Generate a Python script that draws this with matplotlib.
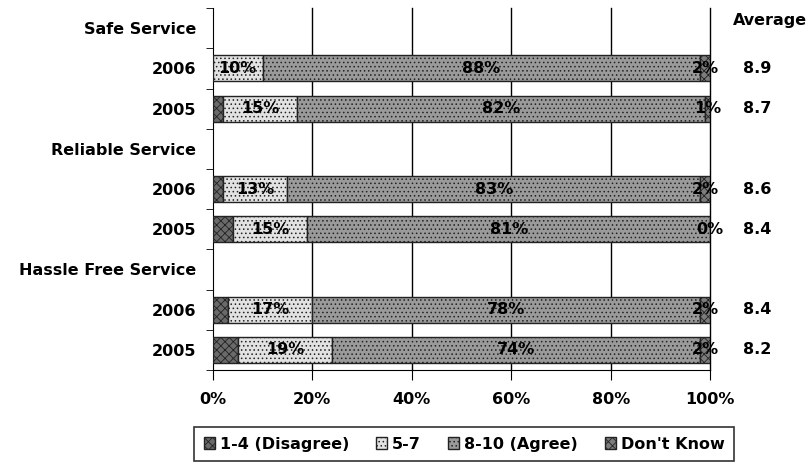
import numpy as np
import matplotlib.pyplot as plt
from matplotlib import rcParams
from matplotlib.patches import Patch

rcParams['font.family'] = 'DejaVu Sans'
rcParams['font.weight'] = 'bold'
rcParams['hatch.linewidth'] = 0.6

rows = ["Safe Service", "2006", "2005",
        "Reliable Service", "2006", "2005",
        "Hassle Free Service", "2006", "2005"]
# None marks a group heading row (no bar)
disagree = [None, 0, 2, None, 2, 4, None, 3, 5]
mid = [None, 10, 15, None, 13, 15, None, 17, 19]
agree = [None, 88, 82, None, 83, 81, None, 78, 74]
dont_know = [None, 2, 1, None, 2, 0, None, 2, 2]
average = [None, 8.9, 8.7, None, 8.6, 8.4, None, 8.4, 8.2]

series = [
    ("1-4 (Disagree)", disagree, "#6a6a6a", "xxxx"),
    ("5-7", mid, "#e2e2e2", "...."),
    ("8-10 (Agree)", agree, "#9a9a9a", "...."),
    ("Don't Know", dont_know, "#7c7c7c", "xxxx"),
]

fs = 11.5

fig = plt.figure(figsize=(8.06, 4.75), dpi=100)
ax = fig.add_axes([0.264, 0.221, 0.617, 0.762])

y = np.arange(len(rows))
bar_rows = [i for i in y if disagree[i] is not None]
left = np.zeros(len(rows))
for name, vals, col, hatch in series:
    v = np.array([vals[i] for i in bar_rows], dtype=float)
    l = left[bar_rows]
    ax.barh(bar_rows, v, left=l, height=0.65, color=col, hatch=hatch,
            edgecolor="#222222", linewidth=1.0, zorder=3)
    if name != "1-4 (Disagree)":
        for yi, vi, li in zip(bar_rows, v, l):
            ax.text(li + vi / 2, yi, f"{int(vi)}%", ha="center", va="center",
                    fontsize=fs, fontweight="bold", zorder=4)
    left[bar_rows] = l + v

ax.set_xlim(0, 100)
ax.set_ylim(len(rows) - 0.5, -0.5)
ax.set_xticks([0, 20, 40, 60, 80, 100])
ax.set_xticklabels(["0%", "20%", "40%", "60%", "80%", "100%"], fontsize=fs)
ax.set_yticks(y)
ax.set_yticklabels(rows, fontsize=fs)
ax.set_yticks(np.arange(len(rows) + 1) - 0.5, minor=True)
ax.tick_params(axis="y", which="major", length=0, pad=12)
ax.tick_params(axis="y", which="minor", length=5, direction="out")
ax.tick_params(axis="x", length=7, direction="out", pad=9)

for xv in [20, 40, 60, 80, 100]:
    ax.axvline(xv, color="black", lw=1.0, zorder=1, clip_on=False)
ax.spines["top"].set_visible(False)
ax.spines["right"].set_visible(False)

# averages column on the right
ax.text(1.12, -0.2, "Average", transform=ax.get_yaxis_transform(), ha="center",
        va="center", fontsize=fs, fontweight="bold")
for i, a in enumerate(average):
    if a is not None:
        ax.text(1.095, i, f"{a}", transform=ax.get_yaxis_transform(),
                ha="center", va="center", fontsize=fs, fontweight="bold")

handles = [Patch(facecolor=c, hatch=h, edgecolor="#222222", label=n)
           for n, _, c, h in series]
leg = fig.legend(handles=handles, loc="center", bbox_to_anchor=(0.576, 0.065),
                 ncol=4, frameon=True, fancybox=False, edgecolor="black",
                 fontsize=fs, handlelength=0.7, handleheight=0.7,
                 handletextpad=0.3, columnspacing=1.7, borderpad=0.6)
leg.get_frame().set_linewidth(1.2)

plt.savefig("out.png", dpi=100)
